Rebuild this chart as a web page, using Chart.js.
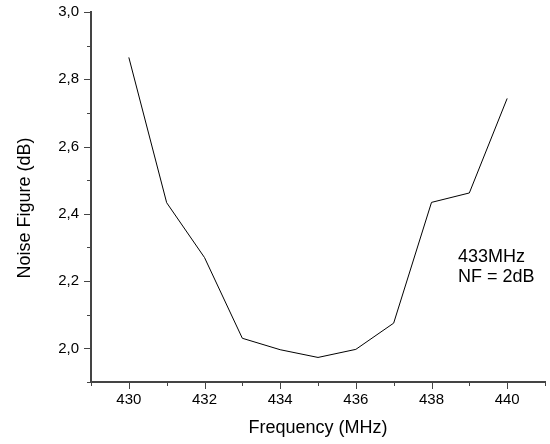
<!DOCTYPE html>
<html>
    <head>
        <title>Noise Figure</title>
        <meta charset="utf-8">
        <script src="https://cdn.jsdelivr.net/npm/chart.js"></script>
        <style>
          body { margin: 0; background: #fff; }
          #nfChart { display: block; }
        </style>
    </head>
    <body>
        <canvas id="nfChart" width="550" height="444"></canvas>
        <script>
            // measured points
            const frequencies = [430, 431, 432, 433, 434, 435, 436, 437, 438, 439, 440];
            const noiseFigure = [2.865, 2.433, 2.27, 2.03, 1.996, 1.973, 1.997, 2.075, 2.434, 2.462, 2.743];

            const xTitle = "Frequency (MHz)";
            const yTitle = "Noise Figure (dB)";
            const noteLines = ["433MHz", "NF = 2dB"];
            const noteAt = { x: 438.7, y: [2.271, 2.211] };

            const axisColor = "#444";
            const labelFont = { family: "'Liberation Sans', Arial, sans-serif", size: 15 };
            const titleFont = { family: "'Liberation Sans', Arial, sans-serif", size: 18 };

            // Origin style ticks: long on labelled values, short in between
            const tickMarks = {
                id: "tickMarks",
                afterDraw(chart) {
                    const ctx = chart.ctx;
                    const xs = chart.scales.x, ys = chart.scales.y;
                    const area = chart.chartArea;
                    ctx.save();
                    ctx.strokeStyle = axisColor;
                    ctx.lineWidth = 1;
                    ctx.beginPath();
                    xs.ticks.forEach(t => {
                        const px = Math.round(xs.getPixelForValue(t.value)) + 0.5;
                        const len = Math.round(t.value) % 2 === 0 ? 6 : 3;
                        ctx.moveTo(px, area.bottom);
                        ctx.lineTo(px, area.bottom + 1 + len);
                    });
                    ys.ticks.forEach(t => {
                        const py = Math.round(ys.getPixelForValue(t.value)) + 0.5;
                        const len = Math.round(t.value * 10) % 2 === 0 ? 6 : 3;
                        ctx.moveTo(area.left, py);
                        ctx.lineTo(area.left - 1 - len, py);
                    });
                    ctx.stroke();

                    // y axis title, centred a bit lower like the original
                    ctx.fillStyle = "#000";
                    ctx.font = `${titleFont.size}px ${titleFont.family}`;
                    ctx.textAlign = "center";
                    ctx.textBaseline = "middle";
                    ctx.translate(25, 208);
                    ctx.rotate(-Math.PI / 2);
                    ctx.fillText(yTitle, 0, 0);
                    ctx.restore();

                    // note inside the plot
                    ctx.save();
                    ctx.fillStyle = "#000";
                    ctx.font = `${titleFont.size}px ${titleFont.family}`;
                    ctx.textAlign = "left";
                    ctx.textBaseline = "middle";
                    noteLines.forEach((line, i) => {
                        ctx.fillText(line, xs.getPixelForValue(noteAt.x), ys.getPixelForValue(noteAt.y[i]));
                    });
                    ctx.restore();
                }
            };

            new Chart(document.getElementById("nfChart"), {
                type: "line",
                data: {
                    datasets: [{
                        data: frequencies.map((f, i) => ({ x: f, y: noiseFigure[i] })),
                        borderColor: "#000",
                        borderWidth: 1,
                        pointRadius: 0,
                        tension: 0,
                        fill: false
                    }]
                },
                options: {
                    responsive: false,
                    animation: false,
                    layout: { padding: { top: 12, right: 5, left: 0, bottom: 0 } },
                    plugins: {
                        legend: { display: false },
                        tooltip: { enabled: false }
                    },
                    scales: {
                        x: {
                            type: "linear",
                            min: 429,
                            max: 441,
                            grid: { display: false, drawTicks: false },
                            border: { display: true, color: axisColor, width: 2 },
                            ticks: {
                                stepSize: 1,
                                autoSkip: false,
                                maxRotation: 0,
                                padding: 9,
                                color: "#000",
                                font: labelFont,
                                callback: v => (Math.round(v) % 2 === 0 ? String(v) : "")
                            },
                            title: {
                                display: true,
                                text: xTitle,
                                color: "#000",
                                font: titleFont,
                                padding: { top: 0, bottom: 5 }
                            },
                            afterFit: s => {
                                s.height = 62;
                                s.paddingLeft = 0;
                                s.paddingRight = 0;
                            }
                        },
                        y: {
                            min: 1.9,
                            max: 3.0,
                            grid: { display: false, drawTicks: false },
                            border: { display: true, color: axisColor, width: 2 },
                            ticks: {
                                stepSize: 0.1,
                                autoSkip: false,
                                padding: 12,
                                color: "#000",
                                font: labelFont,
                                callback: v => (Math.round(v * 10) % 2 === 0 ? v.toFixed(1).replace(".", ",") : "")
                            },
                            afterFit: s => {
                                s.width = 91;
                                s.paddingTop = 0;
                                s.paddingBottom = 0;
                            }
                        }
                    }
                },
                plugins: [tickMarks]
            });
        </script>
    </body>
</html>
